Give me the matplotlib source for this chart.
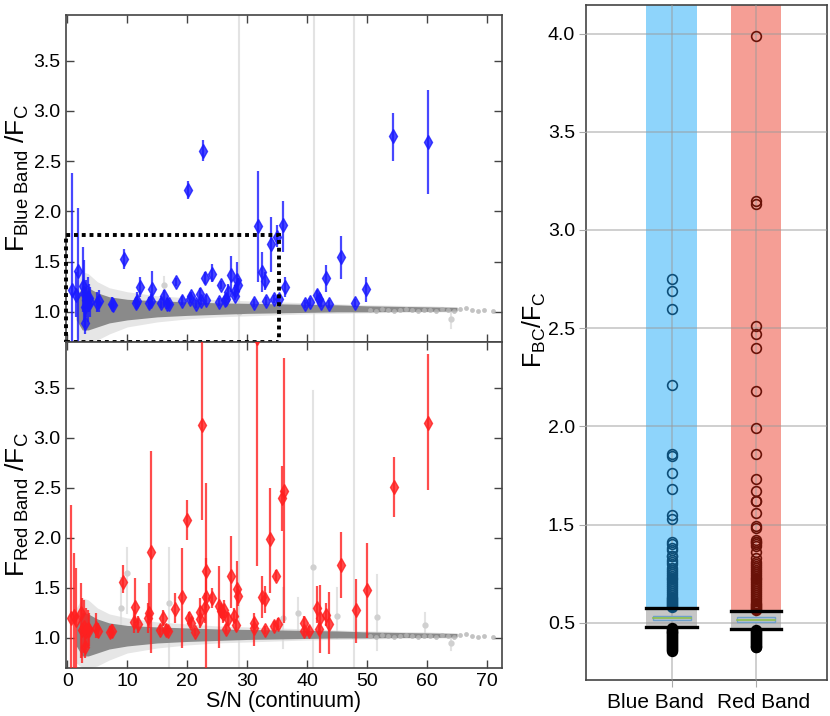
import numpy as np
import matplotlib
matplotlib.use("Agg")
import matplotlib.pyplot as plt
from matplotlib.patches import Rectangle

plt.rcParams['font.family'] = ['Liberation Sans', 'DejaVu Sans']
plt.rcParams['mathtext.fontset'] = 'custom'
plt.rcParams['mathtext.rm'] = 'Liberation Sans'
plt.rcParams['mathtext.it'] = 'Liberation Sans'

# ---------------- data: highlighted blue-band points (S/N, value, low, high)
blue_sn = [0.83, 1.44, 1.72, 2.6, 2.77, 2.94, 3.2, 3.4, 3.6, 3.8, 3.0, 5.0, 5.3, 7.5, 7.7, 9.5, 11.4, 11.6,
           12.1, 13.7, 13.9, 14.2, 15.7, 16.2, 16.6, 17.0, 18.2, 19.2, 20.1, 20.4, 20.7, 21.4, 22.2, 22.3,
           22.6, 22.9, 23.2, 24.2, 25.3, 25.7, 26.3, 26.5, 26.8, 27.3, 27.9, 28.0, 28.3, 28.5, 31.2, 31.8,
           32.4, 33.0, 33.1, 33.9, 34.5, 35.0, 35.3, 35.9, 36.3, 39.6, 40.4, 41.6, 41.9, 42.3, 43.2, 43.7,
           45.6, 47.9, 49.9, 54.4, 60.1]
blue_val = [1.22, 1.17, 1.41, 1.26, 1.19, 0.89, 1.12, 1.08, 1.14, 1.10, 1.05, 1.09, 1.11, 1.08, 1.07, 1.53, 1.09, 1.11,
            1.25, 1.09, 1.11, 1.23, 1.09, 1.16, 1.08, 1.08, 1.30, 1.11, 2.21, 1.13, 1.16, 1.08, 1.18, 1.11,
            2.60, 1.34, 1.12, 1.38, 1.10, 1.27, 1.12, 1.13, 1.20, 1.37, 1.21, 1.16, 1.32, 1.27, 1.09, 1.85,
            1.40, 1.31, 1.11, 1.68, 1.13, 1.75, 1.13, 1.86, 1.25, 1.08, 1.10, 1.17, 1.13, 1.09, 1.34, 1.08,
            1.55, 1.09, 1.23, 2.75, 2.69]
blue_lo = [0.60, 0.95, 0.60, 1.00, 0.90, 0.78, 0.95, 0.90, 1.00, 0.95, 0.85, 1.00, 1.00, 1.02, 1.00, 1.43, 1.03, 1.05,
           1.15, 1.03, 1.05, 1.10, 1.04, 1.08, 1.03, 1.04, 1.26, 1.07, 2.12, 1.09, 1.12, 1.04, 1.12, 1.07,
           2.50, 1.28, 1.07, 1.30, 1.06, 1.23, 1.08, 1.09, 1.12, 1.20, 1.15, 1.12, 1.20, 1.20, 1.05, 1.30,
           1.20, 1.22, 1.07, 1.40, 1.09, 1.65, 1.08, 1.60, 1.15, 1.04, 1.06, 1.12, 1.09, 1.05, 1.20, 1.04,
           1.33, 1.05, 1.10, 2.50, 2.17]
blue_hi = [2.38, 1.40, 2.03, 1.65, 1.52, 1.00, 1.32, 1.35, 1.28, 1.25, 1.20, 1.20, 1.22, 1.15, 1.12, 1.63, 1.15, 1.20,
           1.35, 1.15, 1.18, 1.41, 1.14, 1.22, 1.14, 1.12, 1.34, 1.16, 2.30, 1.17, 1.20, 1.12, 1.24, 1.15,
           2.71, 1.40, 1.17, 1.48, 1.14, 1.31, 1.16, 1.17, 1.28, 1.56, 1.27, 1.20, 1.50, 1.34, 1.13, 2.40,
           1.60, 1.40, 1.15, 1.94, 1.17, 1.86, 1.18, 2.10, 1.35, 1.12, 1.14, 1.22, 1.17, 1.13, 1.47, 1.12,
           1.76, 1.13, 1.35, 2.98, 3.21]

# ---------------- data: highlighted red-band points
red_sn = [0.55, 1.1, 1.45, 2.3, 2.5, 2.8, 3.1, 3.4, 3.6, 3.0, 4.8, 5.2, 7.1, 7.4, 9.3, 11.1, 11.3, 11.8, 13.6,
          13.5, 13.9, 15.5, 16.0, 16.4, 16.8, 18.0, 19.1, 20.0, 20.3, 20.6, 21.3, 22.1, 22.2, 22.5, 22.9,
          23.1, 23.2, 24.1, 25.3, 25.6, 25.9, 26.2, 26.5, 26.8, 27.3, 27.8, 28.1, 28.3, 28.4, 31.1, 31.2,
          31.7, 32.4, 33.0, 33.0, 33.8, 34.4, 34.8, 35.1, 35.8, 36.2, 39.5, 39.5, 40.3, 41.6, 41.9, 42.1,
          43.1, 43.6, 45.6, 48.1, 50.0, 54.5, 60.2]
red_val = [1.20, 1.22, 1.18, 1.25, 1.08, 1.11, 1.07, 1.09, 1.08, 0.91, 1.10, 1.07, 1.06, 1.07, 1.56, 1.16, 1.31, 1.14, 1.25,
           1.20, 1.86, 1.08, 1.20, 1.08, 1.07, 1.29, 1.41, 2.18, 1.20, 1.15, 1.06, 1.26, 1.19, 3.13, 1.31,
           1.67, 1.41, 1.40, 1.32, 1.27, 1.24, 1.28, 1.09, 1.19, 1.62, 1.22, 1.13, 1.49, 1.42, 1.15, 1.10,
           3.99, 1.41, 1.39, 1.08, 1.99, 1.12, 1.62, 1.14, 2.40, 2.47, 1.15, 1.07, 1.07, 1.30, 1.09, 1.20,
           1.23, 1.14, 1.73, 1.28, 1.48, 2.51, 3.15]
red_lo = [0.60, 0.60, 0.60, 0.80, 0.75, 0.85, 0.88, 0.90, 0.92, 0.80, 1.00, 1.00, 1.00, 1.00, 1.45, 1.05, 1.15, 1.05, 1.10,
          1.05, 0.85, 1.03, 1.12, 1.02, 1.02, 1.15, 0.90, 1.98, 1.14, 1.10, 1.02, 1.15, 1.10, 2.18, 1.15,
          0.70, 1.30, 1.30, 0.90, 1.20, 1.15, 1.20, 1.04, 1.12, 1.30, 1.15, 1.07, 1.20, 1.32, 1.05, 0.92,
          1.72, 1.20, 1.25, 1.04, 1.45, 1.07, 1.57, 1.08, 2.07, 1.15, 1.08, 1.02, 1.02, 1.15, 1.03, 0.85,
          1.12, 0.84, 1.40, 0.95, 1.00, 2.21, 2.48]
red_hi = [2.33, 1.85, 1.70, 1.55, 1.40, 1.38, 1.30, 1.28, 1.25, 1.05, 1.25, 1.15, 1.12, 1.14, 1.73, 1.28, 1.60, 1.22, 1.55,
          1.35, 2.87, 1.13, 1.28, 1.14, 1.12, 1.45, 1.90, 2.38, 1.26, 1.20, 1.10, 1.40, 1.28, 4.10, 1.45,
          2.55, 1.80, 1.50, 1.72, 1.35, 1.33, 1.38, 1.14, 1.26, 2.02, 1.30, 1.19, 1.77, 1.52, 1.25, 1.20,
          6.00, 1.62, 1.52, 1.12, 2.50, 1.17, 1.68, 1.20, 2.72, 3.80, 1.22, 1.12, 1.12, 1.52, 1.15, 1.53,
          1.35, 1.46, 2.06, 1.59, 1.95, 2.81, 3.84]

# ---------------- data: full sample cloud envelope
cloud_sn = [1.5, 2.5, 3.5, 5, 7, 10, 15, 20, 25, 30, 35, 40, 45, 50, 55, 60, 65]
band_lo = [0.92, 0.82, 0.82, 0.85, 0.89, 0.92, 0.95, 0.965, 0.975, 0.985, 0.99, 0.995, 1.0, 1.0, 1.005, 1.005, 1.01]
band_hi = [1.12, 1.26, 1.24, 1.19, 1.15, 1.125, 1.11, 1.10, 1.09, 1.085, 1.08, 1.075, 1.07, 1.06, 1.055, 1.05, 1.045]
halo_lo = [0.75, 0.70, 0.70, 0.72, 0.78, 0.85, 0.90, 0.93, 0.95, 0.96, 0.97, 0.98, 0.985, 0.99, 0.995, 1.0, 1.0]
halo_hi = [1.30, 1.40, 1.38, 1.30, 1.24, 1.20, 1.16, 1.14, 1.12, 1.11, 1.10, 1.09, 1.08, 1.07, 1.065, 1.06, 1.05]

# sparse high S/N sample points
hi_sn = [50.5, 51.5, 52.5, 53.5, 54.5, 55.5, 56.5, 57.5, 58.5, 59.5, 60.5, 61.5, 62.5, 63.5, 64.5, 65.5,
         66.5, 67.5, 68.5, 69.5, 71.0]
hi_val = [1.02, 1.01, 1.03, 1.02, 1.01, 1.02, 1.03, 1.02, 1.01, 1.02, 1.02, 1.01, 1.03, 1.02, 1.01, 1.03,
          1.04, 1.02, 1.01, 1.02, 1.01]

# individual wide grey error bars (S/N, value, low, high)
grey_top_sn = [28.7, 41.1, 47.8, 64.0, 16.2]
grey_top_val = [1.00, 1.03, 1.03, 0.93, 1.27]
grey_top_lo = [0.60, 0.60, 0.60, 0.84, 1.20]
grey_top_hi = [4.50, 4.50, 4.50, 1.01, 1.35]
grey_bot_sn = [28.7, 41.0, 47.8, 10.0, 9.0, 17.0, 51.7, 59.7, 64.0, 45.0, 36.0, 38.5]
grey_bot_val = [1.03, 1.71, 1.02, 1.65, 1.30, 1.35, 1.21, 1.13, 0.95, 1.22, 1.20, 1.25]
grey_bot_lo = [0.60, 0.60, 0.60, 1.25, 1.10, 0.70, 0.88, 1.05, 0.88, 1.00, 0.90, 1.00]
grey_bot_hi = [4.50, 3.47, 4.50, 1.90, 1.60, 1.90, 1.63, 1.25, 1.00, 1.50, 1.50, 1.40]

# ---------------- data: right panel box summary
box_labels = ['Blue Band', 'Red Band']
box_lo_fence = [0.980, 0.966]
box_hi_fence = [1.073, 1.060]
box_q1 = [1.012, 1.004]
box_q3 = [1.036, 1.028]
box_med = [1.024, 1.015]
blue_out_high = [2.75, 2.69, 2.60, 2.21, 1.86, 1.85, 1.76, 1.68, 1.55, 1.53, 1.41, 1.40, 1.38, 1.37, 1.34, 1.34,
                 1.32, 1.31, 1.30, 1.28, 1.27, 1.26, 1.25, 1.24, 1.23, 1.22, 1.21, 1.20, 1.19, 1.18, 1.17, 1.16,
                 1.15, 1.14, 1.13, 1.125, 1.12, 1.115, 1.11, 1.105, 1.10, 1.095, 1.09, 1.085, 1.08]
red_out_high = [3.99, 3.15, 3.13, 2.51, 2.47, 2.40, 2.18, 1.99, 1.86, 1.73, 1.67, 1.62, 1.62, 1.56, 1.49, 1.48,
                1.42, 1.41, 1.41, 1.40, 1.39, 1.36, 1.33, 1.31, 1.30, 1.29, 1.28, 1.27, 1.26, 1.25, 1.24, 1.23,
                1.22, 1.21, 1.20, 1.19, 1.18, 1.17, 1.16, 1.15, 1.14, 1.13, 1.12, 1.11, 1.10, 1.095, 1.09,
                1.085, 1.08, 1.075, 1.07, 1.065]
blue_out_low = [0.975, 0.97, 0.965, 0.96, 0.955, 0.95, 0.945, 0.94, 0.935, 0.93, 0.925, 0.92, 0.915, 0.91,
                0.905, 0.90, 0.895, 0.89, 0.885, 0.88, 0.875, 0.87, 0.865, 0.86, 0.857]
red_out_low = [0.961, 0.956, 0.951, 0.946, 0.941, 0.936, 0.931, 0.926, 0.921, 0.916, 0.911, 0.906, 0.901,
               0.896, 0.891, 0.886, 0.881, 0.877, 0.874]
right_yticks = [1.0, 1.5, 2.0, 2.5, 3.0, 3.5, 4.0]
right_yticklabels = ['0.5', '1.5', '2.0', '2.5', '3.0', '3.5', '4.0']
left_yticks = [1.0, 1.5, 2.0, 2.5, 3.0, 3.5]
left_xticks = [0, 10, 20, 30, 40, 50, 60, 70]

# ---------------- figure
W, H = 830, 716
fig = plt.figure(figsize=(W / 100, H / 100), dpi=100)

def fa(x0, y0, x1, y1):
    return [x0 / W, 1 - y1 / H, (x1 - x0) / W, (y1 - y0) / H]

ax1 = fig.add_axes(fa(65.5, 15, 502, 342))
ax2 = fig.add_axes(fa(65.5, 342, 502, 668))
ax3 = fig.add_axes(fa(586, 5, 826.5, 680))

frame = '#444444'


def draw_left(ax, sn, val, lo, hi, color, gsn, gval, glo, ghi):
    ax.fill_between(cloud_sn, halo_lo, halo_hi, color='#e6e6e6', lw=0, zorder=1)
    for s, v, l, h in zip(gsn, gval, glo, ghi):
        ax.plot([s, s], [l, h], color='#d8d8d8', lw=1.5, alpha=0.7, zorder=1.2)
        ax.plot([s], [v], 'o', ms=3.5, color='#d0d0d0', zorder=1.2)
    ax.fill_between(cloud_sn, band_lo, band_hi, color='#8a8a8a', lw=0, zorder=1.5)
    ax.plot(hi_sn, hi_val, 'o', ms=3.5, color='#b5b5b5', alpha=0.8, mec='none', zorder=1.6)
    v = np.array(val)
    yerr = [v - np.array(lo), np.array(hi) - v]
    ax.errorbar(sn, val, yerr=yerr, fmt='d', ms=7, color=color, ecolor=color, elinewidth=1.6,
                capsize=0, alpha=0.8, mec=color, zorder=3)
    ax.set_xlim(-0.3, 72.5)
    ax.set_ylim(0.70, 3.955)
    ax.set_yticks(left_yticks)
    ax.set_xticks(left_xticks)
    ax.tick_params(direction='in', top=True, right=True, length=6, width=1, colors=frame,
                   labelcolor='black', labelsize=14)
    for s in ax.spines.values():
        s.set_color(frame)
        s.set_linewidth(1.2)


draw_left(ax1, blue_sn, blue_val, blue_lo, blue_hi, '#1a1aff',
          grey_top_sn, grey_top_val, grey_top_lo, grey_top_hi)
draw_left(ax2, red_sn, red_val, red_lo, red_hi, '#ff2020',
          grey_bot_sn, grey_bot_val, grey_bot_lo, grey_bot_hi)
ax1.tick_params(labelbottom=False)
ax1.set_ylabel(r'$\mathregular{F_{Blue\ Band}\ /F_C}$', fontsize=19, labelpad=2)
ax2.set_ylabel(r'$\mathregular{F_{Red\ Band}\ /F_C}$', fontsize=19, labelpad=2)
ax2.set_xlabel('S/N (continuum)', fontsize=15.5, labelpad=1)

# dotted zoom box
ax1.add_patch(Rectangle((-0.17, 0.70), 35.42, 1.063, fill=False, ls=(0, (1, 1)), lw=2.8,
                        ec='black', clip_on=False, zorder=5))

# ---------------- right panel
pos = [1, 2]
label_pos = [0.81, 2.095]
bar_cols = ['#8ed4fb', '#f59e95']
in_cols = ['#0d4e78', '#6a1208']
top = 4.146
bw = 0.60
sbw = 0.45
for i, p in enumerate(pos):
    ax3.bar(p, top - box_hi_fence[i], bottom=box_hi_fence[i], width=bw, color=bar_cols[i], lw=0, zorder=1)
    ax3.bar(p, box_hi_fence[i] - box_lo_fence[i], bottom=box_lo_fence[i], width=bw, color='#c6c6c6',
            lw=0, zorder=1)
    ax3.add_patch(Rectangle((p - sbw / 2, box_q1[i]), sbw, box_q3[i] - box_q1[i], fc='#b9c4cc',
                            ec='#6f9fcc', lw=1.0, zorder=3))
    ax3.plot([p - sbw / 2, p + sbw / 2], [box_med[i]] * 2, color='#8fbf4a', lw=1.2, zorder=4)
    for yv in (box_lo_fence[i], box_hi_fence[i]):
        ax3.plot([p - bw / 2, p + bw / 2], [yv, yv], color='black', lw=2.4, zorder=4)

outs_high = [blue_out_high, red_out_high]
outs_low = [blue_out_low, red_out_low]
for i, p in enumerate(pos):
    ax3.plot([p] * len(outs_high[i]), outs_high[i], 'o', ms=7, mfc='none', mec=in_cols[i], mew=1.2, zorder=3)
    ax3.plot([p] * len(outs_low[i]), outs_low[i], 'o', ms=7, mfc='none', mec='black', mew=1.2, zorder=3)

ax3.set_xlim(-0.017, 2.839)
ax3.set_ylim(0.708, top)
ax3.set_xticks(pos)
ax3.set_xticklabels(['', ''])
for lp, lab in zip(label_pos, box_labels):
    ax3.text(lp, -0.0415, lab, transform=ax3.get_xaxis_transform(), ha='center', va='baseline',
             fontsize=15)
ax3.set_yticks(right_yticks)
ax3.set_yticklabels(right_yticklabels, fontsize=14)
ax3.set_axisbelow(False)
ax3.grid(True, color='#9a9a9a', alpha=0.55, lw=1.2)
ax3.tick_params(axis='y', length=5, color='#aaaaaa', pad=3)
ax3.tick_params(axis='x', length=5, color='#aaaaaa')
fig.text(534 / W, 1 - 330 / H, r'$\mathregular{F_{BC}/F_C}$', fontsize=18, rotation=90,
         ha='center', va='center')
for s in ax3.spines.values():
    s.set_color(frame)
    s.set_linewidth(1.2)

fig.savefig('out.png', dpi=100)
